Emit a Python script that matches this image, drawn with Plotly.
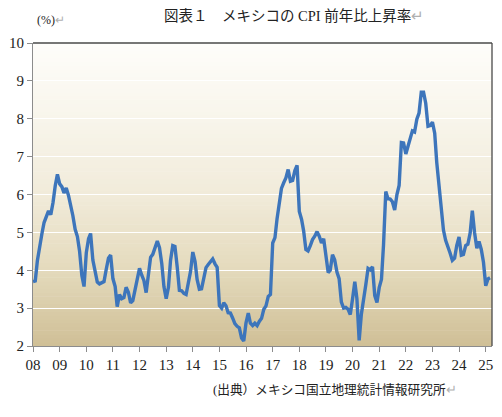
import plotly.graph_objects as go
import pandas as pd

# Monthly CPI year-on-year change (%), Jan 2008 - Mar 2025
cpi_2008 = [3.70, 3.72, 4.25, 4.55, 4.95, 5.26, 5.39, 5.57, 5.47, 5.78, 6.23, 6.53]
cpi_2009 = [6.28, 6.20, 6.04, 6.17, 5.98, 5.74, 5.44, 5.08, 4.89, 4.50, 3.86, 3.57]
cpi_2010 = [4.46, 4.83, 4.97, 4.27, 3.92, 3.69, 3.64, 3.68, 3.70, 4.02, 4.32, 4.40]
cpi_2011 = [3.78, 3.57, 3.04, 3.36, 3.25, 3.28, 3.55, 3.42, 3.14, 3.20, 3.48, 3.82]
cpi_2012 = [4.05, 3.87, 3.73, 3.41, 3.85, 4.34, 4.42, 4.57, 4.77, 4.60, 4.18, 3.57]
cpi_2013 = [3.25, 3.55, 4.25, 4.65, 4.63, 4.09, 3.47, 3.46, 3.39, 3.36, 3.62, 3.97]
cpi_2014 = [4.48, 4.23, 3.76, 3.50, 3.51, 3.75, 4.07, 4.15, 4.22, 4.30, 4.17, 4.08]
cpi_2015 = [3.07, 3.00, 3.14, 3.06, 2.88, 2.87, 2.74, 2.59, 2.52, 2.48, 2.21, 2.13]
cpi_2016 = [2.61, 2.87, 2.60, 2.54, 2.60, 2.54, 2.65, 2.73, 2.97, 3.06, 3.31, 3.36]
cpi_2017 = [4.72, 4.86, 5.35, 5.82, 6.16, 6.31, 6.44, 6.66, 6.35, 6.37, 6.63, 6.77]
cpi_2018 = [5.55, 5.34, 5.04, 4.55, 4.51, 4.65, 4.81, 4.90, 5.02, 4.90, 4.72, 4.83]
cpi_2019 = [4.37, 3.94, 4.00, 4.41, 4.28, 3.95, 3.78, 3.16, 3.00, 3.02, 2.97, 2.83]
cpi_2020 = [3.24, 3.70, 3.25, 2.15, 2.84, 3.33, 3.62, 4.05, 4.01, 4.09, 3.33, 3.15]
cpi_2021 = [3.54, 3.76, 4.67, 6.08, 5.89, 5.88, 5.81, 5.59, 6.00, 6.24, 7.37, 7.36]
cpi_2022 = [7.07, 7.28, 7.45, 7.68, 7.65, 7.99, 8.15, 8.70, 8.70, 8.41, 7.80, 7.82]
cpi_2023 = [7.91, 7.62, 6.85, 6.25, 5.84, 5.06, 4.79, 4.64, 4.45, 4.26, 4.32, 4.66]
cpi_2024 = [4.88, 4.40, 4.42, 4.65, 4.69, 4.98, 5.57, 4.99, 4.58, 4.76, 4.55, 4.21]
cpi_2025 = [3.59, 3.77, 3.80]

year_labels = ["08", "09", "10", "11", "12", "13", "14", "15", "16",
               "17", "18", "19", "20", "21", "22", "23", "24", "25"]
y_ticks = [2, 3, 4, 5, 6, 7, 8, 9, 10]

values = (cpi_2008 + cpi_2009 + cpi_2010 + cpi_2011 + cpi_2012 + cpi_2013 +
          cpi_2014 + cpi_2015 + cpi_2016 + cpi_2017 + cpi_2018 + cpi_2019 +
          cpi_2020 + cpi_2021 + cpi_2022 + cpi_2023 + cpi_2024 + cpi_2025)
dates = pd.date_range("2008-01-01", periods=len(values), freq="MS")
year_ticks = [f"20{y}-01-01" for y in year_labels]

SERIF = "Liberation Serif"
MIXED = "Liberation Serif, Noto Sans CJK JP"

fig = go.Figure()
fig.add_trace(go.Scatter(
    x=dates, y=values, mode="lines",
    line=dict(color="#3d75bb", width=3.4),
    hoverinfo="skip", showlegend=False,
))

def lerp(c1, c2, t):
    return tuple(round(a + (b - a) * t) for a, b in zip(c1, c2))

stops = [(0.0, (207, 191, 150)), (0.25, (228, 218, 188)), (0.5, (241, 235, 218)),
         (0.75, (248, 245, 235)), (1.0, (254, 253, 250))]
n = 80
shapes = []
for i in range(n):
    t = (i + 0.5) / n
    for k in range(len(stops) - 1):
        if stops[k][0] <= t <= stops[k + 1][0]:
            tt = (t - stops[k][0]) / (stops[k + 1][0] - stops[k][0])
            c = lerp(stops[k][1], stops[k + 1][1], tt)
            break
    shapes.append(dict(type="rect", xref="paper", yref="paper",
                       x0=0, x1=1, y0=i / n, y1=(i + 1) / n + 0.002,
                       fillcolor="rgb(%d,%d,%d)" % c, line=dict(width=0),
                       layer="below"))
shapes.append(dict(type="line", xref="paper", yref="paper", x0=0, x1=1, y0=1, y1=1,
                   line=dict(color="#4a4a4a", width=1.3)))
shapes.append(dict(type="line", xref="paper", yref="paper", x0=1, x1=1, y0=0, y1=1,
                   line=dict(color="#4a4a4a", width=1.3)))

fig.update_layout(
    width=502, height=417,
    margin=dict(l=33, r=10, t=43, b=71, autoexpand=False),
    paper_bgcolor="white",
    plot_bgcolor="rgba(0,0,0,0)",
    shapes=shapes,
    font=dict(family=MIXED, color="#222222", size=13),
    xaxis=dict(
        type="date",
        range=["2008-01-01", "2025-03-28"],
        tickvals=year_ticks, ticktext=year_labels,
        ticks="outside", ticklen=5, tickcolor="#8c8c8c",
        showline=True, linecolor="#8c8c8c", linewidth=1,
        showgrid=False, zeroline=False,
        tickfont=dict(family=SERIF, size=15, color="#222222"),
    ),
    yaxis=dict(
        range=[2, 10],
        tickvals=y_ticks,
        ticks="outside", ticklen=5, tickcolor="#8c8c8c",
        showline=True, linecolor="#8c8c8c", linewidth=1,
        showgrid=True, gridcolor="white", gridwidth=1.2,
        zeroline=False,
        tickfont=dict(family=SERIF, size=15, color="#222222"),
    ),
    annotations=[
        dict(text="図表１　メキシコの CPI 前年比上昇率<span style='color:#b0b0b0'>↵</span>",
             xref="paper", yref="paper", x=0.569, y=1.0, yshift=17,
             xanchor="center", yanchor="bottom", showarrow=False,
             font=dict(family=MIXED, size=14.5, color="#222222")),
        dict(text="(%)<span style='color:#b0b0b0'>↵</span>",
             xref="paper", yref="paper", x=0.0, y=1.0, xshift=2, yshift=14,
             xanchor="left", yanchor="bottom", showarrow=False,
             font=dict(family=SERIF, size=12, color="#222222")),
        dict(text="(出典）メキシコ国立地理統計情報研究所<span style='color:#b0b0b0'>↵</span>",
             xref="paper", yref="paper", x=0.92, y=0.0, xshift=4, yshift=-34,
             xanchor="right", yanchor="top", showarrow=False,
             font=dict(family=MIXED, size=12.7, color="#222222")),
    ],
)

fig.write_html("out.html", config={"displayModeBar": False},
               post_script="document.body.style.margin='0';document.body.style.overflow='hidden';")
